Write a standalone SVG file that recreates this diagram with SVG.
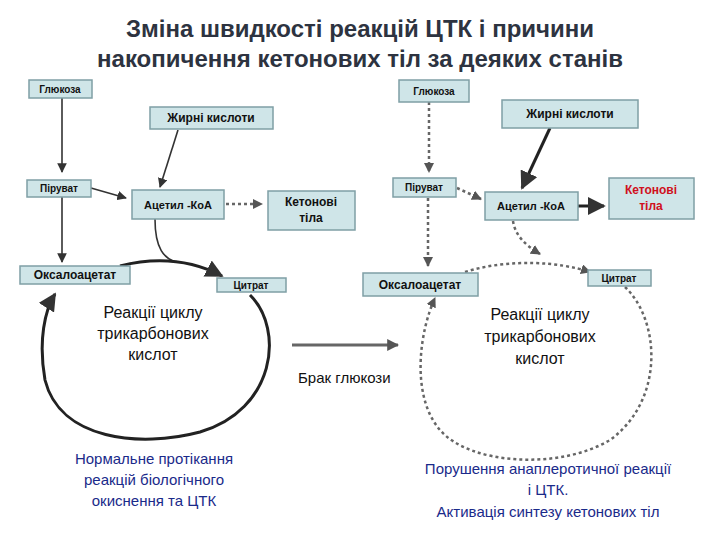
<svg xmlns="http://www.w3.org/2000/svg" width="720" height="540" viewBox="0 0 720 540">
<defs>
<marker id="a" viewBox="0 0 10 10" refX="9" refY="5" markerWidth="6" markerHeight="6" orient="auto-start-reverse"><path d="M0,0L10,5L0,10z" fill="#333"/></marker>
<marker id="g" viewBox="0 0 10 10" refX="9" refY="5" markerWidth="4" markerHeight="4" orient="auto"><path d="M0,0L10,5L0,10z" fill="#555"/></marker>
<style>
.b{fill:#cfe5e8;stroke:#7f9fa5;stroke-width:1.5}
.t{font-family:"Liberation Sans",Arial,sans-serif;font-weight:bold;fill:#111;text-anchor:middle}
.c{font-family:"Liberation Sans",Arial,sans-serif;font-weight:normal;text-anchor:middle;fill:#111}
.s{stroke:#333;stroke-width:1.6;fill:none}
.k{stroke:#222;stroke-width:3;fill:none}
.d{stroke:#666;stroke-width:2.5;fill:none;stroke-dasharray:3,3}
</style>
</defs>
<rect width="720" height="540" fill="#fff"/>
<text x="360" y="37" class="t" font-size="24" style="fill:#2d3340">Зміна швидкості  реакцій ЦТК і причини</text>
<text x="360" y="67" class="t" font-size="24" style="fill:#2d3340">накопичення кетонових тіл за деяких станів</text>

<g id="connectors">
<path class="s" d="M62,98V172" marker-end="url(#a)"/>
<path class="s" d="M62,197V262" marker-end="url(#a)"/>
<path class="s" d="M91,188L126,198" marker-end="url(#a)"/>
<path class="s" d="M178,130L160,187" marker-end="url(#a)"/>
<path class="d" d="M226,204H262" marker-end="url(#g)"/>
<path class="s" d="M155,219C155,250 165,258 175,262"/>
<path class="k" d="M120,266C160,256 195,262 222,276" marker-end="url(#a)"/>
<path class="k" d="M250,295C285,330 275,410 200,432C140,448 60,440 45,380C38,340 45,310 55,294" marker-end="url(#a)"/>
<path d="M292,345H398" stroke="#666" stroke-width="3" fill="none" marker-end="url(#g)"/>
<path class="d" d="M429,102V172" marker-end="url(#g)"/>
<path class="d" d="M428,198V266" marker-end="url(#g)"/>
<path class="d" d="M457,188L481,199" marker-end="url(#g)"/>
<path class="k" d="M550,128L522,188" marker-end="url(#a)"/>
<path class="k" d="M578,206H604" marker-end="url(#a)"/>
<path class="d" d="M513,221C515,235 525,245 540,254" marker-end="url(#g)"/>
<path class="d" d="M465,272C510,258 560,262 590,272" marker-end="url(#g)"/>
<path class="d" d="M625,287C660,320 665,400 610,440C560,470 470,465 440,430C410,395 420,330 435,298" marker-end="url(#g)"/>
</g>

<g id="n1"><rect class="b" x="29" y="80" width="63" height="18"/><text class="t" x="60" y="93" font-size="10">Глюкоза</text></g>
<g id="n2"><rect class="b" x="150" y="107" width="123" height="22"/><text class="t" x="211" y="122" font-size="12">Жирні кислоти</text></g>
<g id="n3"><rect class="b" x="27" y="180" width="64" height="17"/><text class="t" x="59" y="192" font-size="10">Піруват</text></g>
<g id="n4"><rect class="b" x="132" y="190" width="92" height="29"/><text class="t" x="178" y="209" font-size="11">Ацетил -КоА</text></g>
<g id="n5"><rect class="b" x="268" y="191" width="87" height="39"/><text class="t" x="311" y="206" font-size="12">Кетонові</text><text class="t" x="311" y="222" font-size="12">тіла</text></g>
<g id="n6"><rect class="b" x="20" y="266" width="110" height="18"/><text class="t" x="75" y="279" font-size="12">Оксалоацетат</text></g>
<g id="n7"><rect class="b" x="217" y="278" width="69" height="14"/><text class="t" x="251" y="289" font-size="10">Цитрат</text></g>
<g id="n8"><text class="c" x="153" y="318" font-size="16">Реакції циклу</text><text class="c" x="153" y="339" font-size="16">трикарбонових</text><text class="c" x="153" y="360" font-size="16">кислот</text></g>
<g id="n9"><text x="298" y="383" font-size="15" font-family="Liberation Sans,Arial,sans-serif" fill="#111">Брак глюкози</text></g>

<g id="m1"><rect class="b" x="399" y="80" width="70" height="22"/><text class="t" x="434" y="95" font-size="10">Глюкоза</text></g>
<g id="m2"><rect class="b" x="502" y="100" width="136" height="28"/><text class="t" x="570" y="118" font-size="12">Жирні кислоти</text></g>
<g id="m3"><rect class="b" x="393" y="178" width="63" height="19"/><text class="t" x="424" y="191" font-size="10">Піруват</text></g>
<g id="m4"><rect class="b" x="485" y="192" width="93" height="28"/><text class="t" x="531" y="210" font-size="11">Ацетил -КоА</text></g>
<g id="m5"><rect class="b" x="609" y="178" width="85" height="41"/><text class="t" x="651" y="194" font-size="12" style="fill:#d01020">Кетонові</text><text class="t" x="651" y="210" font-size="12" style="fill:#d01020">тіла</text></g>
<g id="m6"><rect class="b" x="363" y="273" width="115" height="23"/><text class="t" x="420" y="289" font-size="12">Оксалоацетат</text></g>
<g id="m7"><rect class="b" x="588" y="270" width="63" height="16"/><text class="t" x="619" y="282" font-size="10">Цитрат</text></g>
<g id="m8"><text class="c" x="540" y="320" font-size="16">Реакції циклу</text><text class="c" x="540" y="342" font-size="16">трикарбонових</text><text class="c" x="540" y="364" font-size="16">кислот</text></g>

<g id="f1"><text class="c" font-size="15" x="154" y="464" style="fill:#1a2a8a">Нормальне протікання</text><text class="c" font-size="15" x="154" y="485" style="fill:#1a2a8a">реакцій біологічного</text><text class="c" font-size="15" x="154" y="506" style="fill:#1a2a8a">окиснення та ЦТК</text></g>
<g id="f2"><text class="c" font-size="15" x="548" y="474" style="fill:#1a2a8a">Порушення анаплеротичної реакції</text><text class="c" font-size="15" x="548" y="495" style="fill:#1a2a8a">і ЦТК.</text><text class="c" font-size="15" x="548" y="517" style="fill:#1a2a8a">Активація синтезу кетонових тіл</text></g>
</svg>
